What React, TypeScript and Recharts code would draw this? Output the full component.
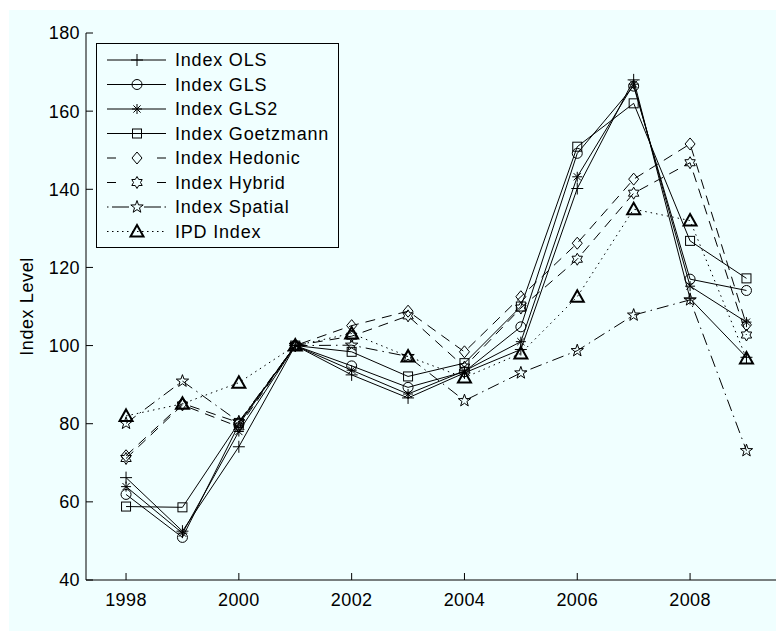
import React from 'react';
import { LineChart, Line, XAxis, YAxis, Legend } from 'recharts';

const years = [1998, 1999, 2000, 2001, 2002, 2003, 2004, 2005, 2006, 2007, 2008, 2009];
const indexOLS = [66.2, 52.5, 74.1, 100, 92.5, 86.6, 93.0, 99.0, 140.2, 168.0, 112.0, 97.0];
const indexGLS = [61.9, 50.9, 79.8, 100, 94.8, 89.3, 93.3, 104.8, 149.2, 166.4, 117.0, 114.1];
const indexGLS2 = [63.9, 52.0, 78.0, 100, 93.7, 87.6, 93.5, 101.0, 143.2, 166.9, 115.2, 106.0];
const indexGoetzmann = [58.8, 58.6, 80.2, 100, 98.4, 92.1, 95.5, 110.0, 150.9, 162.0, 126.8, 117.2];
const indexHedonic = [71.8, 85.2, 80.3, 100, 105.1, 108.8, 98.4, 112.5, 126.2, 142.6, 151.6, 105.3];
const indexHybrid = [71.1, 84.8, 79.2, 100, 102.4, 107.6, 94.5, 109.6, 122.1, 139.0, 146.8, 102.7];
const indexSpatial = [80.1, 90.9, 80.5, 100, 100.1, 97.2, 85.9, 93.0, 98.7, 107.8, 111.7, 73.1];
const ipdIndex = [82.0, 85.1, 90.5, 100, 103.1, 97.2, 91.8, 98.0, 112.5, 134.9, 132.0, 96.7];

const xTicks = [1998, 2000, 2002, 2004, 2006, 2008];
const yTicks = [40, 60, 80, 100, 120, 140, 160, 180];

type Shape = 'plus' | 'circle' | 'asterisk' | 'square' | 'diamond' | 'hexagram' | 'pentagram' | 'triangle';
type Dash = 'solid' | 'dashed' | 'dashdot' | 'dotted';

const series: { key: string; name: string; values: number[]; shape: Shape; dash: Dash }[] = [
  { key: 'ols', name: 'Index OLS', values: indexOLS, shape: 'plus', dash: 'solid' },
  { key: 'gls', name: 'Index GLS', values: indexGLS, shape: 'circle', dash: 'solid' },
  { key: 'gls2', name: 'Index GLS2', values: indexGLS2, shape: 'asterisk', dash: 'solid' },
  { key: 'goetz', name: 'Index Goetzmann', values: indexGoetzmann, shape: 'square', dash: 'solid' },
  { key: 'hedonic', name: 'Index Hedonic', values: indexHedonic, shape: 'diamond', dash: 'dashed' },
  { key: 'hybrid', name: 'Index Hybrid', values: indexHybrid, shape: 'hexagram', dash: 'dashed' },
  { key: 'spatial', name: 'Index Spatial', values: indexSpatial, shape: 'pentagram', dash: 'dashdot' },
  { key: 'ipd', name: 'IPD Index', values: ipdIndex, shape: 'triangle', dash: 'dotted' },
];

const data = years.map((y, i) => {
  const row: Record<string, number> = { year: y };
  series.forEach((s) => {
    row[s.key] = s.values[i];
  });
  return row;
});

const dashArray: Record<Dash, string | undefined> = {
  solid: undefined,
  dashed: '10 7',
  dashdot: '12 5 1.5 5',
  dotted: '1.5 4',
};

const FONT = '"Liberation Sans", Arial, Helvetica, sans-serif';

function starPoints(cx: number, cy: number, n: number, rO: number, rI: number): string {
  const pts: string[] = [];
  for (let i = 0; i < n * 2; i++) {
    const r = i % 2 === 0 ? rO : rI;
    const a = -Math.PI / 2 + (i * Math.PI) / n;
    pts.push(`${(cx + r * Math.cos(a)).toFixed(2)},${(cy + r * Math.sin(a)).toFixed(2)}`);
  }
  return pts.join(' ');
}

function Marker({ shape, cx, cy }: { shape: Shape; cx: number; cy: number }) {
  const s = { fill: 'none', stroke: '#000', strokeWidth: 1 };
  switch (shape) {
    case 'plus':
      return <path d={`M${cx - 6},${cy}H${cx + 6}M${cx},${cy - 6}V${cy + 6}`} {...s} />;
    case 'circle':
      return <circle cx={cx} cy={cy} r={5} {...s} />;
    case 'asterisk':
      return (
        <path
          d={`M${cx - 5},${cy}H${cx + 5}M${cx},${cy - 5}V${cy + 5}M${cx - 3.6},${cy - 3.6}L${cx + 3.6},${cy + 3.6}M${cx - 3.6},${cy + 3.6}L${cx + 3.6},${cy - 3.6}`}
          {...s}
        />
      );
    case 'square':
      return <rect x={cx - 4.5} y={cy - 4.5} width={9} height={9} {...s} />;
    case 'diamond':
      return <polygon points={`${cx},${cy - 6} ${cx + 5},${cy} ${cx},${cy + 6} ${cx - 5},${cy}`} {...s} />;
    case 'hexagram':
      return <polygon points={starPoints(cx, cy, 6, 6, 3.5)} {...s} />;
    case 'pentagram':
      return <polygon points={starPoints(cx, cy, 5, 6.5, 2.6)} {...s} />;
    case 'triangle':
      return (
        <polygon
          points={`${cx},${cy - 6.5} ${cx + 6.5},${cy + 5} ${cx - 6.5},${cy + 5}`}
          fill="none"
          stroke="#000"
          strokeWidth={2}
          strokeLinejoin="miter"
        />
      );
    default:
      return null;
  }
}

function LegendBox() {
  const rowTop = 17;
  const step = 24.5;
  const lx0 = 11;
  const lx1 = 70;
  const mx = 41;
  return (
    <svg width={244} height={206} style={{ display: 'block', overflow: 'visible' }}>
      <rect x={0.5} y={0.5} width={242} height={204} fill="#F0FFFF" stroke="#000" strokeWidth={1} />
      {series.map((s, i) => {
        const cy = rowTop + i * step;
        let lineEl: React.ReactNode = null;
        if (s.dash === 'solid') {
          lineEl = <line x1={lx0} x2={lx1} y1={cy} y2={cy} stroke="#000" strokeWidth={1} />;
        } else if (s.dash === 'dashed') {
          lineEl = (
            <path d={`M${lx0},${cy}H${lx0 + 9}M${lx1 - 9},${cy}H${lx1}`} stroke="#000" strokeWidth={1} />
          );
        } else if (s.dash === 'dashdot') {
          lineEl = (
            <path
              d={`M${lx0},${cy}H${lx0 + 1.5}M${lx0 + 5},${cy}H${lx0 + 22}M${lx1 - 22},${cy}H${lx1 - 5}M${lx1 - 1.5},${cy}H${lx1}`}
              stroke="#000"
              strokeWidth={1}
            />
          );
        } else {
          lineEl = (
            <line x1={lx0} x2={lx1} y1={cy} y2={cy} stroke="#000" strokeWidth={1} strokeDasharray="1.5 3.5" />
          );
        }
        return (
          <g key={s.key}>
            {lineEl}
            <Marker shape={s.shape} cx={mx} cy={cy} />
            <text
              x={79}
              y={cy + 6.4}
              fontSize={18}
              fontFamily={FONT}
              fill="#000"
              style={{ letterSpacing: '0.8px' }}
            >
              {s.name}
            </text>
          </g>
        );
      })}
    </svg>
  );
}

function YLabel(props: any) {
  const vb = props.viewBox || { x: 0, y: 23, width: 77, height: 547 };
  const cx = 24;
  const cy = vb.y + vb.height / 2;
  return (
    <text
      x={cx}
      y={cy}
      transform={`rotate(-90, ${cx}, ${cy})`}
      textAnchor="middle"
      fontSize={18}
      fontFamily={FONT}
      fill="#000"
      style={{ letterSpacing: '0.6px' }}
    >
      Index Level
    </text>
  );
}

export default function App() {
  return (
    <div
      style={{
        position: 'relative',
        left: 1,
        top: 2,
        width: 775,
        height: 623,
        background: '#F0FFFF',
        fontFamily: FONT,
      }}
    >
      <LineChart width={775} height={623} data={data} margin={{ top: 23, right: 2, left: 0, bottom: 0 }}>
        <XAxis
          dataKey="year"
          type="number"
          domain={[1997.29, 2009.63]}
          ticks={xTicks}
          interval={0}
          allowDataOverflow
          height={53}
          tickSize={-7}
          tickMargin={20}
          axisLine={{ stroke: '#000', strokeWidth: 1 }}
          tickLine={{ stroke: '#000', strokeWidth: 1 }}
          tick={{ fontSize: 18, fill: '#000', fontFamily: FONT, letterSpacing: '0.4px' }}
        />
        <YAxis
          type="number"
          domain={[40, 180]}
          ticks={yTicks}
          interval={0}
          allowDataOverflow
          width={77}
          tickSize={-7}
          tickMargin={13}
          axisLine={{ stroke: '#000', strokeWidth: 1 }}
          tickLine={{ stroke: '#000', strokeWidth: 1 }}
          tick={{ fontSize: 18, fill: '#000', fontFamily: FONT, letterSpacing: '0.4px' }}
          label={<YLabel />}
        />
        <Legend
          layout="vertical"
          align="center"
          verticalAlign="middle"
          wrapperStyle={{ left: 87, top: 33, width: 244, height: 206 }}
          content={() => <LegendBox />}
        />
        {series.map((s) => (
          <Line
            key={s.key}
            dataKey={s.key}
            name={s.name}
            type="linear"
            stroke="#000"
            strokeWidth={1}
            strokeDasharray={dashArray[s.dash]}
            isAnimationActive={false}
            activeDot={false}
            dot={(p: any) => <Marker key={`${s.key}-${p.index}`} shape={s.shape} cx={p.cx} cy={p.cy} />}
          />
        ))}
      </LineChart>
    </div>
  );
}
